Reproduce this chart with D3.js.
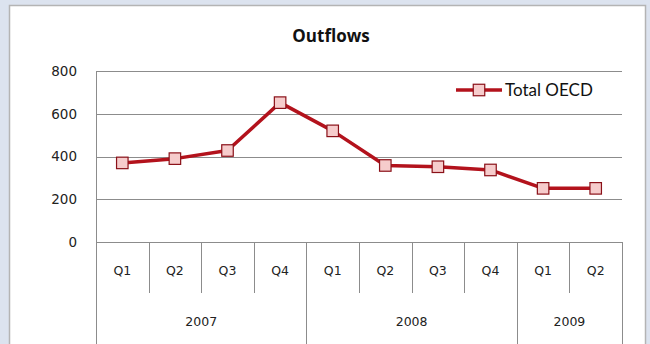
<!DOCTYPE html>
<html><head><meta charset="utf-8">
<script src="https://cdn.jsdelivr.net/npm/d3@7"></script>
<style>
html,body{margin:0;padding:0;background:#dce3ef;}
svg{display:block;}
</style></head>
<body>
<svg id="c" width="650" height="344"></svg>
<script>
const years = ["2007","2008","2009"];
const quarters = ["Q1","Q2","Q3","Q4","Q1","Q2","Q3","Q4","Q1","Q2"];
const quarterYear = ["2007","2007","2007","2007","2008","2008","2008","2008","2009","2009"];
const totalOECD = [370, 390, 428, 652, 520, 358, 352, 337, 251, 251];
const yTicks = [0, 200, 400, 600, 800];
const seriesName = "Total OECD";
const title = "Outflows";

(function () {
const svg = d3.select("#c");
svg.append("rect").attr("x", 9.5).attr("y", 5.5).attr("width", 636).attr("height", 345)
  .attr("fill", "#fff").attr("stroke", "#b4b4b4").attr("stroke-width", 1.5);

const pL = 96, pR = 622, pT = 71, pB = 242, tableBottom = 350;
const idx = d3.range(quarters.length);
const x = d3.scaleBand().domain(idx).range([pL, pR]).paddingInner(0).paddingOuter(0);
const y = d3.scaleLinear().domain([0, 800]).range([pB, pT]);

const gridCol = "#8c8c8c";
const labelFont = "DejaVu Sans, Verdana, sans-serif";
svg.append("g").selectAll("line").data(yTicks).join("line")
  .attr("x1", pL).attr("x2", pR)
  .attr("y1", d => Math.round(y(d)) + 0.5).attr("y2", d => Math.round(y(d)) + 0.5)
  .attr("stroke", gridCol).attr("stroke-width", 1);

svg.append("g").selectAll("text").data(yTicks).join("text")
  .attr("x", 77).attr("y", d => y(d)).attr("dy", "0.36em")
  .attr("text-anchor", "end")
  .attr("font-family", labelFont).attr("font-size", 13.5).attr("fill", "#222")
  .text(d => d);

svg.append("line").attr("x1", pL + 0.5).attr("x2", pL + 0.5).attr("y1", pT).attr("y2", tableBottom)
  .attr("stroke", gridCol);
svg.append("line").attr("x1", pR + 0.5).attr("x2", pR + 0.5).attr("y1", pB).attr("y2", tableBottom)
  .attr("stroke", gridCol);

const qSepY2 = 293;
svg.append("g").selectAll("line").data(idx.slice(1)).join("line")
  .attr("x1", d => Math.round(x(d)) + 0.5).attr("x2", d => Math.round(x(d)) + 0.5)
  .attr("y1", pB).attr("y2", d => quarterYear[d] !== quarterYear[d - 1] ? tableBottom : qSepY2)
  .attr("stroke", gridCol);

svg.append("g").selectAll("text").data(idx).join("text")
  .attr("x", d => x(d) + x.bandwidth() / 2).attr("y", 270.5).attr("dy", "0.36em")
  .attr("text-anchor", "middle")
  .attr("font-family", labelFont).attr("font-size", 12.5).attr("fill", "#222")
  .text(d => quarters[d]);

svg.append("g").selectAll("text").data(years).join("text")
  .attr("x", yr => {
    const ii = idx.filter(i => quarterYear[i] === yr);
    return (x(ii[0]) + x(ii[ii.length - 1]) + x.bandwidth()) / 2;
  })
  .attr("y", 321.5).attr("dy", "0.36em")
  .attr("text-anchor", "middle")
  .attr("font-family", labelFont).attr("font-size", 12.5).attr("fill", "#222")
  .text(d => d);

svg.append("text").attr("x", 331).attr("y", 36).attr("dy", "0.36em").attr("text-anchor", "middle")
  .attr("font-family", "Open Sans, Lato, sans-serif").attr("font-weight", "bold").attr("font-size", 17)
  .attr("fill", "#111").text(title);

const lineCol = "#b3121c";
const line = d3.line().x((d, i) => x(i) + x.bandwidth() / 2).y(d => y(d));
svg.append("path").datum(totalOECD).attr("d", line).attr("fill", "none")
  .attr("stroke", lineCol).attr("stroke-width", 3.5).attr("stroke-linejoin", "round");
const ms = 11.5;
svg.append("g").selectAll("rect").data(totalOECD).join("rect")
  .attr("x", (d, i) => x(i) + x.bandwidth() / 2 - ms / 2).attr("y", d => y(d) - ms / 2)
  .attr("width", ms).attr("height", ms)
  .attr("fill", "#f6cccc").attr("stroke", "#8a1018").attr("stroke-width", 1.2);

const ly = 90;
svg.append("line").attr("x1", 456).attr("x2", 502).attr("y1", ly).attr("y2", ly)
  .attr("stroke", lineCol).attr("stroke-width", 3.5);
svg.append("rect").attr("x", 479 - ms / 2).attr("y", ly - ms / 2).attr("width", ms).attr("height", ms)
  .attr("fill", "#f6cccc").attr("stroke", "#8a1018").attr("stroke-width", 1.2);
svg.append("text").attr("x", 505).attr("y", ly).attr("dy", "0.36em")
  .attr("font-family", "Lato, Open Sans, sans-serif").attr("font-size", 17).attr("fill", "#111")
  .text(seriesName);
})();
</script>
</body></html>
